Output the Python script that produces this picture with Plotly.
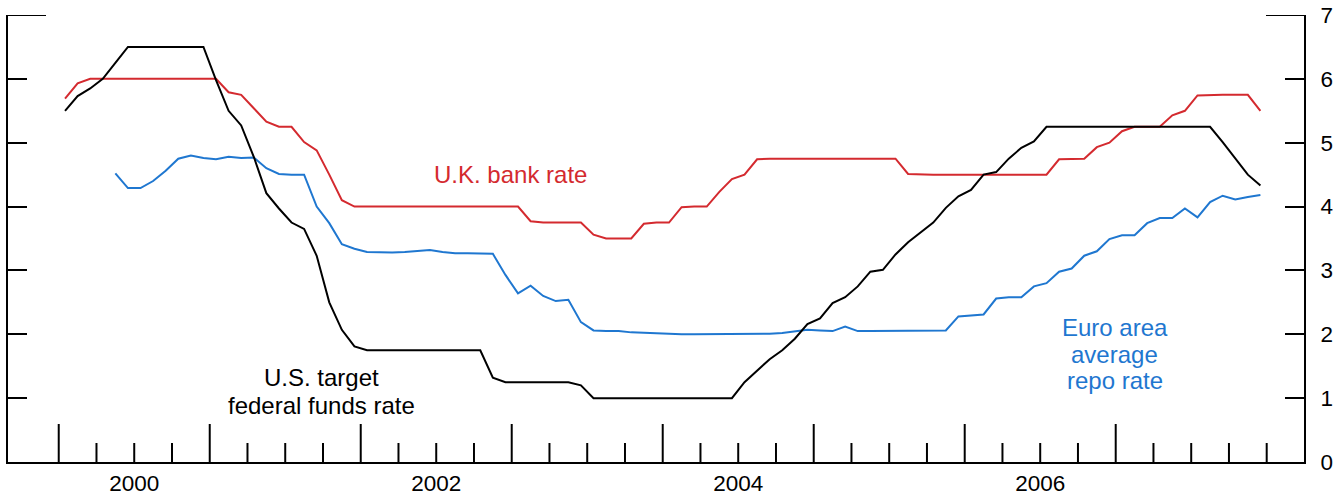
import plotly.graph_objects as go

# ---------------- data (monthly averages, Jan 2000 - Dec 2007) ----------------
years = list(range(2000, 2008))
month_numbers = list(range(1, 13))

us_target_fed_funds = [
    5.50, 5.73, 5.85, 6.00, 6.25, 6.50, 6.50, 6.50, 6.50, 6.50, 6.50, 6.50,   # 2000
    5.98, 5.50, 5.27, 4.78, 4.21, 3.97, 3.75, 3.65, 3.23, 2.50, 2.07, 1.81,   # 2001
    1.75, 1.75, 1.75, 1.75, 1.75, 1.75, 1.75, 1.75, 1.75, 1.75, 1.32, 1.25,   # 2002
    1.25, 1.25, 1.25, 1.25, 1.25, 1.20, 1.00, 1.00, 1.00, 1.00, 1.00, 1.00,   # 2003
    1.00, 1.00, 1.00, 1.00, 1.00, 1.00, 1.25, 1.43, 1.61, 1.75, 1.93, 2.16,   # 2004
    2.25, 2.49, 2.58, 2.75, 2.98, 3.01, 3.25, 3.44, 3.60, 3.75, 3.98, 4.16,   # 2005
    4.26, 4.50, 4.54, 4.75, 4.92, 5.02, 5.25, 5.25, 5.25, 5.25, 5.25, 5.25,   # 2006
    5.25, 5.25, 5.25, 5.25, 5.25, 5.25, 5.25, 5.25, 5.01, 4.76, 4.50, 4.33,   # 2007
]

uk_bank_rate = [
    5.69, 5.93, 6.00, 6.00, 6.00, 6.00, 6.00, 6.00, 6.00, 6.00, 6.00, 6.00,   # 2000
    6.00, 5.79, 5.75, 5.54, 5.33, 5.25, 5.25, 5.01, 4.88, 4.50, 4.10, 4.00,   # 2001
    4.00, 4.00, 4.00, 4.00, 4.00, 4.00, 4.00, 4.00, 4.00, 4.00, 4.00, 4.00,   # 2002
    4.00, 3.77, 3.75, 3.75, 3.75, 3.75, 3.56, 3.50, 3.50, 3.50, 3.73, 3.75,   # 2003
    3.75, 3.99, 4.00, 4.00, 4.23, 4.43, 4.50, 4.74, 4.75, 4.75, 4.75, 4.75,   # 2004
    4.75, 4.75, 4.75, 4.75, 4.75, 4.75, 4.75, 4.51, 4.50, 4.50, 4.50, 4.50,   # 2005
    4.50, 4.50, 4.50, 4.50, 4.50, 4.50, 4.50, 4.74, 4.75, 4.75, 4.93, 5.00,   # 2006
    5.18, 5.25, 5.25, 5.25, 5.43, 5.50, 5.74, 5.75, 5.75, 5.75, 5.75, 5.50,   # 2007
]

euro_avg_repo_rate = [
    None, None, None, None, 4.52, 4.29, 4.29, 4.40, 4.56, 4.75, 4.80, 4.76,   # 2000
    4.74, 4.78, 4.76, 4.77, 4.60, 4.51, 4.50, 4.50, 4.00, 3.74, 3.41, 3.34,   # 2001
    3.29, 3.28, 3.28, 3.29, 3.30, 3.32, 3.29, 3.27, 3.27, 3.27, 3.26, 2.93,   # 2002
    2.64, 2.76, 2.60, 2.52, 2.54, 2.19, 2.06, 2.05, 2.05, 2.03, 2.02, 2.01,   # 2003
    2.00, 2.00, 2.00, 2.00, 2.00, 2.00, 2.00, 2.01, 2.01, 2.02, 2.04, 2.07,   # 2004
    2.06, 2.05, 2.12, 2.05, 2.05, 2.05, 2.05, 2.05, 2.05, 2.06, 2.06, 2.28,   # 2005
    2.30, 2.31, 2.56, 2.58, 2.58, 2.75, 2.80, 2.98, 3.03, 3.23, 3.30, 3.49,   # 2006
    3.55, 3.55, 3.74, 3.82, 3.82, 3.97, 3.83, 4.07, 4.17, 4.11, 4.15, 4.18,   # 2007
]

year_ticks = [2000, 2001, 2002, 2003, 2004, 2005, 2006, 2007]
quarter_ticks = [y + q for y in range(2000, 2008) for q in (0.25, 0.5, 0.75)] + [2008.0]
label_positions = [2000.5, 2002.5, 2004.5, 2006.5]
label_texts = ["2000", "2002", "2004", "2006"]
y_ticks = [0, 1, 2, 3, 4, 5, 6, 7]

# month mid-points on a decimal-year axis
x_months = [y + (m - 0.5) / 12 for y in years for m in month_numbers]

BLACK = "#000000"
RED = "#d42a2f"
BLUE = "#1f77d0"
FONT = "Liberation Sans, Arial, sans-serif"

fig = go.Figure()
fig.add_trace(go.Scatter(x=x_months, y=uk_bank_rate, mode="lines",
                         line=dict(color=RED, width=2), name="U.K. bank rate"))
fig.add_trace(go.Scatter(x=x_months, y=euro_avg_repo_rate, mode="lines",
                         line=dict(color=BLUE, width=2), name="Euro area average repo rate"))
fig.add_trace(go.Scatter(x=x_months, y=us_target_fed_funds, mode="lines",
                         line=dict(color=BLACK, width=2), name="U.S. target federal funds rate"))

shapes = []
for t in year_ticks:
    shapes.append(dict(type="line", xref="x", yref="paper", ysizemode="pixel", yanchor=0,
                       x0=t, x1=t, y0=0, y1=38, line=dict(color=BLACK, width=2)))
for t in quarter_ticks:
    shapes.append(dict(type="line", xref="x", yref="paper", ysizemode="pixel", yanchor=0,
                       x0=t, x1=t, y0=0, y1=19, line=dict(color=BLACK, width=2)))
# longer top ticks at 7 on both sides
shapes.append(dict(type="line", xref="paper", yref="y", xsizemode="pixel", xanchor=0,
                   x0=0, x1=38, y0=7, y1=7, line=dict(color=BLACK, width=2)))
shapes.append(dict(type="line", xref="paper", yref="y", xsizemode="pixel", xanchor=1,
                   x0=-38, x1=0, y0=7, y1=7, line=dict(color=BLACK, width=2)))


def label(x, y, text, color):
    return dict(x=x, y=y, xref="x", yref="y", text=text, showarrow=False,
                xanchor="center", yanchor="middle",
                font=dict(size=24, color=color, family=FONT))


annotations = [
    label(2002.99, 4.50, "U.K. bank rate", RED),
    label(2001.74, 1.32, "U.S. target", BLACK),
    label(2001.74, 0.88, "federal funds rate", BLACK),
    label(2006.995, 2.11, "Euro area", BLUE),
    label(2006.995, 1.69, "average", BLUE),
    label(2006.995, 1.27, "repo rate", BLUE),
]

fig.update_layout(
    width=1342, height=499,
    margin=dict(l=8, r=38, t=15, b=37, autoexpand=False),
    paper_bgcolor="white", plot_bgcolor="white",
    showlegend=False,
    font=dict(family=FONT, color=BLACK, size=22),
    shapes=shapes,
    annotations=annotations,
    xaxis=dict(range=[1999.664, 2008.247], showgrid=False, zeroline=False, automargin=False,
               showline=True, linecolor=BLACK, linewidth=2,
               tickmode="array", tickvals=label_positions, ticktext=label_texts,
               ticks="", tickfont=dict(size=22.5, family=FONT, color=BLACK)),
    yaxis=dict(range=[0, 7], side="right", showgrid=False, zeroline=False, automargin=False,
               showline=True, linecolor=BLACK, linewidth=2, mirror="ticks",
               tickmode="array", tickvals=y_ticks, ticks="inside", ticklen=19,
               tickwidth=2, tickcolor=BLACK, ticklabelstandoff=10,
               tickfont=dict(size=22.5, family=FONT, color=BLACK)),
)

fig.write_html("out.html",
               config={"displayModeBar": False},
               post_script="document.body.style.margin='0px';document.body.style.overflow='hidden';")
